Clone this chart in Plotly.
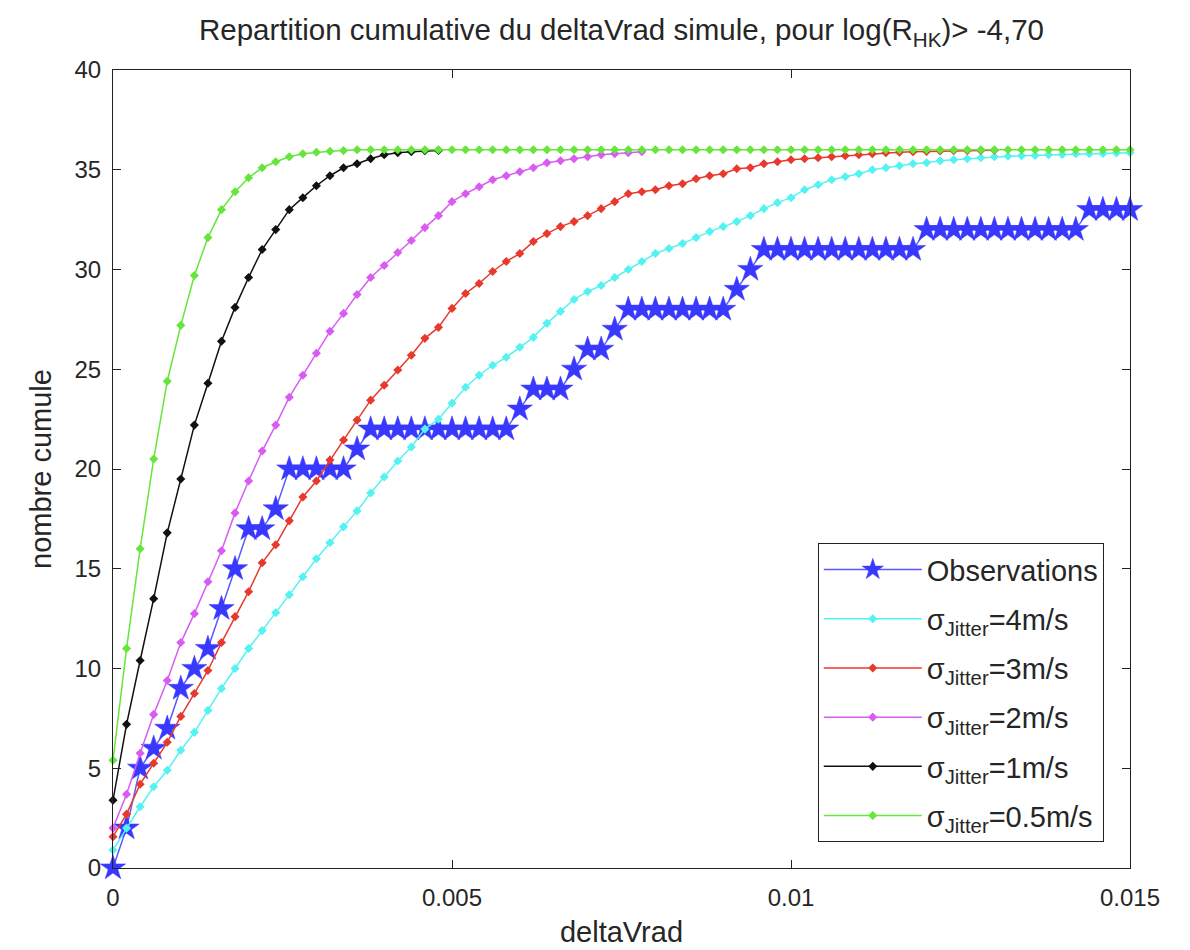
import plotly.graph_objects as go

# x grid (deltaVrad) on which the cumulative counts are given
deltaVrad = [
    0.0000, 0.0002, 0.0004, 0.0006, 0.0008, 0.0010, 0.0012, 0.0014, 0.0016, 0.0018,
    0.0020, 0.0022, 0.0024, 0.0026, 0.0028, 0.0030, 0.0032, 0.0034, 0.0036, 0.0038,
    0.0040, 0.0042, 0.0044, 0.0046, 0.0048, 0.0050, 0.0052, 0.0054, 0.0056, 0.0058,
    0.0060, 0.0062, 0.0064, 0.0066, 0.0068, 0.0070, 0.0072, 0.0074, 0.0076, 0.0078,
    0.0080, 0.0082, 0.0084, 0.0086, 0.0088, 0.0090, 0.0092, 0.0094, 0.0096, 0.0098,
    0.0100, 0.0102, 0.0104, 0.0106, 0.0108, 0.0110, 0.0112, 0.0114, 0.0116, 0.0118,
    0.0120, 0.0122, 0.0124, 0.0126, 0.0128, 0.0130, 0.0132, 0.0134, 0.0136, 0.0138,
    0.0140, 0.0142, 0.0144, 0.0146, 0.0148, 0.0150,
]

observations = [
    0, 2, 5, 6, 7, 9, 10, 11, 13, 15,
    17, 17, 18, 20, 20, 20, 20, 20, 21, 22,
    22, 22, 22, 22, 22, 22, 22, 22, 22, 22,
    23, 24, 24, 24, 25, 26, 26, 27, 28, 28,
    28, 28, 28, 28, 28, 28, 29, 30, 31, 31,
    31, 31, 31, 31, 31, 31, 31, 31, 31, 31,
    32, 32, 32, 32, 32, 32, 32, 32, 32, 32,
    32, 32, 33, 33, 33, 33,
]

sigma_4 = [
    0.9, 2.0, 3.07, 4.07, 4.9, 5.9, 6.8, 7.9, 9.0, 10.0,
    11.0, 11.9, 12.8, 13.7, 14.6, 15.5, 16.3, 17.1, 17.9, 18.8,
    19.6, 20.4, 21.1, 22.0, 22.5, 23.3, 24.1, 24.7, 25.2, 25.6,
    26.1, 26.6, 27.3, 27.9, 28.5, 28.9, 29.2, 29.6, 30.0, 30.4,
    30.8, 31.05, 31.3, 31.6, 31.9, 32.15, 32.4, 32.7, 33.05, 33.35,
    33.6, 34.0, 34.25, 34.5, 34.65, 34.8, 35.0, 35.1, 35.2, 35.3,
    35.35, 35.45, 35.5, 35.55, 35.6, 35.65, 35.68, 35.7, 35.72, 35.75,
    35.77, 35.8, 35.8, 35.82, 35.84, 35.85,
]

sigma_3 = [
    1.57, 2.7, 4.2, 5.25, 6.3, 7.6, 8.75, 9.9, 11.3, 12.6,
    13.85, 15.3, 16.2, 17.4, 18.6, 19.4, 20.45, 21.45, 22.45, 23.45,
    24.2, 24.96, 25.7, 26.55, 27.1, 28.05, 28.8, 29.3, 29.9, 30.4,
    30.8, 31.4, 31.8, 32.15, 32.4, 32.7, 33.05, 33.4, 33.8, 33.9,
    34.0, 34.2, 34.3, 34.55, 34.7, 34.8, 35.05, 35.1, 35.3, 35.4,
    35.5, 35.55, 35.6, 35.65, 35.7, 35.75, 35.8, 35.85, 35.88, 35.9,
    35.92, 35.94, 35.95, 35.96, 35.97, 35.98,
]

sigma_2 = [
    2.0, 3.7, 5.75, 7.7, 9.4, 11.3, 12.75, 14.35, 15.9, 17.8,
    19.4, 20.9, 22.2, 23.6, 24.7, 25.8, 26.9, 27.8, 28.75, 29.6,
    30.2, 30.85, 31.45, 32.1, 32.7, 33.4, 33.8, 34.15, 34.5, 34.7,
    34.9, 35.1, 35.35, 35.45, 35.55, 35.65, 35.75, 35.8, 35.85, 35.9,
]

sigma_1 = [
    3.4, 7.2, 10.4, 13.5, 16.8, 19.5, 22.2, 24.3, 26.4, 28.1,
    29.6, 31.0, 32.0, 33.0, 33.6, 34.2, 34.7, 35.1, 35.3, 35.55,
    35.75, 35.85, 35.9, 35.95, 35.97,
]

sigma_05 = [
    5.4, 11.0, 16.0, 20.5, 24.4, 27.2, 29.7, 31.6, 33.0, 33.9,
    34.6, 35.1, 35.4, 35.65, 35.8, 35.88, 35.93, 35.96, 36, 36,
    36, 36, 36, 36, 36, 36, 36, 36, 36, 36,
    36, 36, 36, 36, 36, 36, 36, 36, 36, 36,
    36, 36, 36, 36, 36, 36, 36, 36, 36, 36,
    36, 36, 36, 36, 36, 36, 36, 36, 36, 36,
    36, 36, 36, 36, 36, 36, 36, 36, 36, 36,
    36, 36, 36, 36, 36, 36,
]

x_tick_vals = [0, 0.005, 0.01, 0.015]
x_tick_text = ["0", "0.005", "0.01", "0.015"]
y_tick_vals = [0, 5, 10, 15, 20, 25, 30, 35, 40]

FONT = "Liberation Sans, Arial, Helvetica, sans-serif"
TEXT_COLOR = "#262626"

sim_series = [
    ("σ<sub>Jitter</sub>=4m/s", sigma_4, "#55f2f2"),
    ("σ<sub>Jitter</sub>=3m/s", sigma_3, "#e8392e"),
    ("σ<sub>Jitter</sub>=2m/s", sigma_2, "#d95cf2"),
    ("σ<sub>Jitter</sub>=1m/s", sigma_1, "#111111"),
    ("σ<sub>Jitter</sub>=0.5m/s", sigma_05, "#66e63a"),
]

fig = go.Figure()

fig.add_trace(go.Scatter(
    x=deltaVrad[:len(observations)], y=observations,
    mode="lines+markers", name="Observations",
    line=dict(color="#5a5aff", width=1.5),
    marker=dict(symbol="star", size=19, color="#3838ff",
                line=dict(color="#3838ff", width=0.5)),
    cliponaxis=False, legendgroup="obs",
))

for i, (name, vals, col) in enumerate(sim_series):
    fig.add_trace(go.Scatter(
        x=deltaVrad[:len(vals)], y=vals,
        mode="lines+markers", name=name,
        line=dict(color=col, width=1.5),
        marker=dict(symbol="diamond", size=7, color=col),
        cliponaxis=False, legendgroup=f"g{i}",
    ))

axis_common = dict(
    showline=True, linecolor="#222222", linewidth=1.2, mirror="ticks",
    ticks="inside", ticklen=8, tickcolor="#222222", tickwidth=1,
    showgrid=False, zeroline=False, automargin=False,
    tickfont=dict(family=FONT, size=24, color=TEXT_COLOR),
)

fig.update_layout(
    width=1182, height=942,
    paper_bgcolor="white", plot_bgcolor="white",
    margin=dict(l=105, r=60, t=62, b=82),
    title=dict(
        text="Repartition cumulative du deltaVrad simule, pour log(R<sub>HK</sub>)> -4,70",
        x=0.5, xanchor="center", xref="paper",
        y=1 - 22 / 942, yanchor="middle", yref="container",
        font=dict(family=FONT, size=29.5, color=TEXT_COLOR),
    ),
    xaxis=dict(
        range=[0, 0.015], tickvals=x_tick_vals, ticktext=x_tick_text,
        ticklabelstandoff=8,
        title=dict(text="deltaVrad", standoff=11,
                   font=dict(family=FONT, size=29, color=TEXT_COLOR)),
        **axis_common,
    ),
    yaxis=dict(
        range=[0, 40], tickvals=y_tick_vals,
        ticklabelstandoff=6,
        title=dict(text="nombre cumule", standoff=14,
                   font=dict(family=FONT, size=29, color=TEXT_COLOR)),
        **axis_common,
    ),
    legend=dict(
        x=0.693, y=0.407, xanchor="left", yanchor="top",
        bgcolor="white", bordercolor="#222222", borderwidth=1,
        font=dict(family=FONT, size=29, color=TEXT_COLOR),
        itemwidth=98, tracegroupgap=8.5,
    ),
    showlegend=True,
)

fig.write_html("out.html")
